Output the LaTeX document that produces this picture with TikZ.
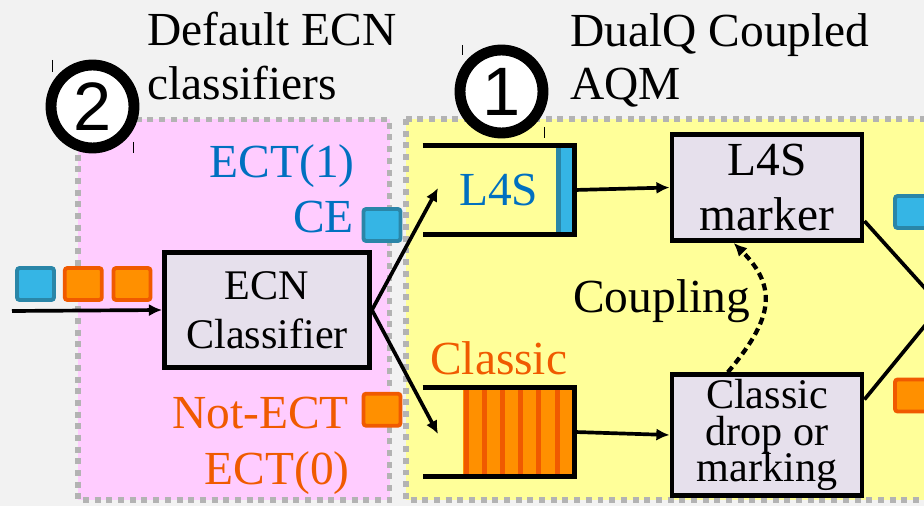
\documentclass[tikz,border=0pt]{standalone}
\usepackage{fontspec}
\setmainfont{Liberation Serif}
\newfontfamily\digitfont{Liberation Sans}
\usepackage{tikz}
\usetikzlibrary{arrows.meta,positioning}
\usepackage{xcolor}

\definecolor{bggray}{HTML}{F2F2F2}
\definecolor{pinkbg}{HTML}{FFCCFF}
\definecolor{yellowbg}{HTML}{FFFF99}
\definecolor{dotgray}{HTML}{B3B3B3}
\definecolor{boxfill}{HTML}{E6E0EC}
\definecolor{l4stxt}{HTML}{0070C0}
\definecolor{pktblue}{HTML}{35B5E5}
\definecolor{pktblueedge}{HTML}{2A86A8}
\definecolor{pktorange}{HTML}{FF9000}
\definecolor{pktorangeedge}{HTML}{F05A00}
\definecolor{classictxt}{HTML}{F05A00}

\newcommand{\bigtxt}{\fontsize{27}{31}\selectfont}
\newcommand{\tighttxt}{\fontsize{24}{20.8}\selectfont\lineskiplimit=-20pt\lineskip=0pt\relax}

\begin{document}
\begin{tikzpicture}[x=0.02cm,y=-0.02cm,
	flow/.style={line width=2.1pt,-{Latex[length=7.5pt,width=7pt]}},
	region/.style={draw=dotgray,line width=3.4pt,dash pattern=on 3.4pt off 3.25pt},
	procbox/.style={draw,line width=2.8pt,fill=boxfill,align=center,inner sep=0pt},
	queue/.style={minimum width=3.03cm,minimum height=1.76cm,inner sep=0pt,font=\bigtxt},
	qline/.style={line width=2.8pt},
	pkt/.style={rectangle,draw,line width=2.2pt,rounded corners=1.5pt,minimum width=0.74cm,minimum height=0.64cm,inner sep=0pt},
	l4spkt/.style={pkt,fill=pktblue,draw=pktblueedge},
	classicpkt/.style={pkt,fill=pktorange,draw=pktorangeedge},
	numcircle/.style={circle,draw,line width=6.2pt,fill=white,minimum size=1.66cm,inner sep=0pt,font=\digitfont\fontsize{39}{39}\selectfont}]
	\useasboundingbox (0,0) rectangle (924,506);
	\clip (0,0) rectangle (924,506);
	\fill[bggray] (0,0) rectangle (924,506);

	% the two regions
	\draw[region,fill=pinkbg] (78,119.5) rectangle (389.5,500);
	\draw[region,fill=yellowbg] (406,119) rectangle (980,500);

	\begin{scope}[every node/.style={font=\bigtxt,inner sep=0pt}]
		\node[anchor=base west] (t2a) at (147,46) {Default ECN};
		\node[anchor=base west] (t2b) at (147,100) {classifiers};
		\node[anchor=base west] (t1a) at (570,47) {DualQ Coupled};
		\node[anchor=base west] (t1b) at (570,100) {AQM};
		\node[anchor=base east,text=l4stxt] (ect1) at (355,178) {ECT(1)};
		\node[anchor=base east,text=l4stxt] (ce) at (354,233) {CE};
		\node[anchor=base east,text=classictxt] (notect) at (349,429) {Not-ECT};
		\node[anchor=base east,text=classictxt] (ect0) at (350,485) {ECT(0)};
		\node[anchor=base west] (coup) at (573,313) {Coupling};
	\end{scope}

	% numbered circles and their handles
	\node[numcircle] (c2) at (92.5,106.5) {2};
	\node[numcircle] (c1) at (501.5,91.5) {1};
	\draw[line width=0.5pt] (52,60) -- (52,72) (133,142) -- (133,153);
	\draw[line width=0.5pt] (462,45) -- (462,55) (544,127) -- (544,138);

	% packets
	\node[l4spkt] (in1) at (35.5,284) {};
	\node[classicpkt] (in2) at (83.3,284) {};
	\node[classicpkt] (in3) at (132,284) {};
	\node[l4spkt] (pce) at (382,225) {};
	\node[classicpkt] (pnot) at (382,409.7) {};
	\node[l4spkt] (out1) at (913.5,212) {};
	\node[classicpkt] (out2) at (913.5,395.5) {};

	% boxes
	\node[procbox,minimum width=4.1cm,minimum height=2.31cm,font=\fontsize{24}{28}\selectfont] (ecn) at (267,310) {ECN\\Classifier};
	\node[procbox,minimum width=3.8cm,minimum height=2.12cm,font=\bigtxt] (mark) at (767,187.5) {L4S\\marker};
	\node[procbox,minimum width=3.8cm,minimum height=2.41cm,font=\tighttxt] (drop) at (767,435) {Classic\\drop or\\marking};

	% queues
	\fill[pktblue] (556,146) rectangle (574.5,234);
	\fill[pktblueedge] (556,146) rectangle (561,234);
	\node[queue,text=l4stxt] (l4sq) at (498.7,190) {L4S};
	\draw[qline] (l4sq.north west) -- (l4sq.north east) -- (l4sq.south east) -- (l4sq.south west);

	\fill[pktorange] (463,387.5) rectangle (574.5,476.5);
	\foreach \x in {463.5,481.7,499.9,518.1,536.3,554.5}
		\fill[pktorangeedge] (\x,387.5) rectangle +(5,89);
	\node[queue,label={[text=classictxt,font=\bigtxt,inner sep=6.8pt]above:Classic}] (cq) at (498.7,432) {};
	\draw[qline] (cq.north west) -- (cq.north east) -- (cq.south east) -- (cq.south west);

	% connectors
	\coordinate (src) at (12,311);
	\coordinate (l4sin) at (438,188);
	\coordinate (cin) at (438,434);
	\coordinate (merge) at (941,306);
	\draw[flow] (src) -- (ecn.west);
	\draw[flow] (ecn.east) -- (l4sin);
	\draw[flow] (ecn.east) -- (cin);
	\draw[flow] (l4sq.east) -- (mark.west);
	\draw[flow] (cq.east) -- (drop.west);
	\draw[flow,line width=2.4pt,dash pattern=on 4pt off 2.6pt] (drop.122) to[out=50,in=-45,looseness=1.3] (mark.239);
	\draw[line width=2.1pt] (mark.-19) -- (merge);
	\draw[line width=2.1pt] (drop.20) -- (merge);
\end{tikzpicture}
\end{document}
